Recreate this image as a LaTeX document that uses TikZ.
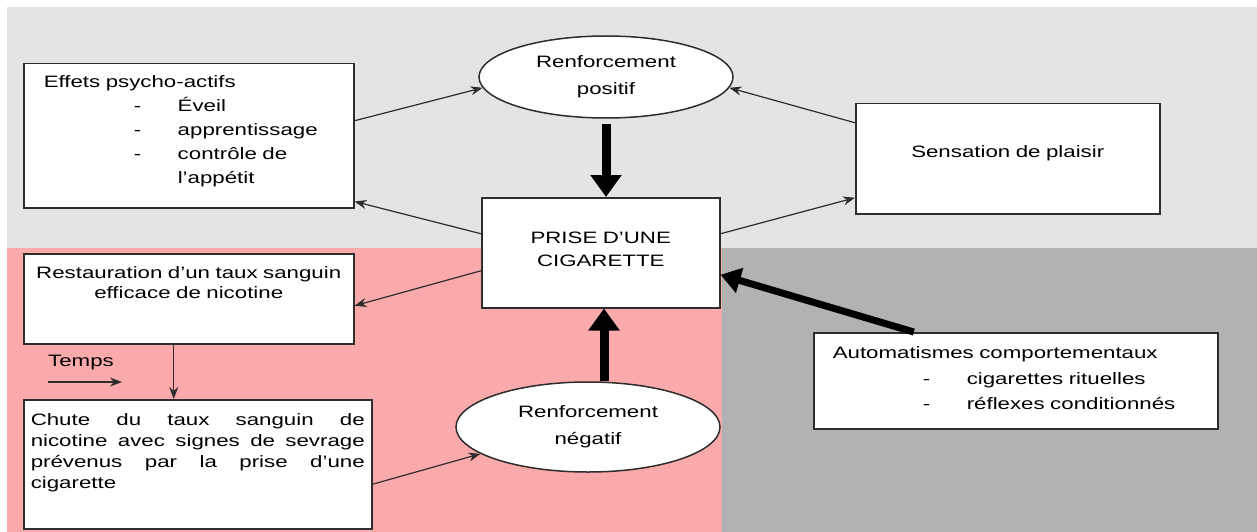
\documentclass[tikz,border=0pt]{standalone}
\usepackage{fontspec}
\setmainfont{Liberation Sans}[FakeStretch=1.35]
\usepackage{tikz}
\usetikzlibrary{shapes.geometric, arrows.meta}

\definecolor{fondclair}{RGB}{228,228,228}
\definecolor{fondrose}{RGB}{250,170,170}
\definecolor{fondgris}{RGB}{178,178,178}
\definecolor{trait}{RGB}{45,45,45}

\tolerance=10000
\hyphenpenalty=10000
\newcommand{\tiret}[1]{\hspace*{90pt}\makebox[44pt][l]{-}#1}

\begin{document}
\begin{tikzpicture}[x=1pt, y=-1pt,
		boite/.style={draw=trait, line width=1.5pt, fill=white, anchor=north west, inner ysep=0pt},
		bulle/.style={ellipse, draw=trait, line width=1.5pt, fill=white, inner sep=0pt, align=center},
		fleche/.style={-{Stealth[length=12pt, width=9pt]}, line width=1.2pt, draw=trait},
		grosse/.style={-{Triangle[length=22pt, width=30pt]}, line width=9pt},
		font=\fontsize{16.5}{22}\selectfont]
			\useasboundingbox (0,0) rectangle (1257,532);
			
			% Draw the three background zones
			\fill[fondclair] (7,7) rectangle (1257,248);
			\fill[fondrose] (7,248) rectangle (722,532);
			\fill[fondgris] (722,248) rectangle (1257,532);
			
			% Boxes
			\node[boite, text width=290pt, inner xsep=20pt, align=left, text height=24pt, text depth=120pt, font=\fontsize{16.5}{24}\selectfont] (effets) at (23,63)
				{Effets psycho-actifs\\ \tiret{Éveil}\\ \tiret{apprentissage}\\ \tiret{contrôle de}\\ \hspace*{134pt}l'appétit};
			\node[boite, text width=222pt, inner xsep=8pt, align=center, text height=46pt, text depth=64pt, font=\fontsize{16.5}{23}\selectfont] (prise) at (481,197)
				{PRISE D'UNE\\ CIGARETTE};
			\node[boite, text width=288pt, inner xsep=8pt, align=center, text height=54pt, text depth=56pt] (plaisir) at (855,103)
				{Sensation de plaisir};
			\node[boite, text width=314pt, inner xsep=8pt, align=center, text height=25pt, text depth=65pt, font=\fontsize{16.5}{20}\selectfont] (restau) at (23,253)
				{Restauration d'un taux sanguin\\ efficace de nicotine};
			\node[boite, text width=334pt, inner xsep=7pt, align=justify, text height=26pt, text depth=103pt, font=\fontsize{16.5}{21}\selectfont] (chute) at (23,399)
				{Chute du taux sanguin de\linebreak nicotine avec signes de sevrage\linebreak prévenus par la prise d'une\linebreak cigarette};
			\node[boite, text width=366pt, inner xsep=19pt, align=left, text height=26pt, text depth=70pt, font=\fontsize{16.5}{25.5}\selectfont] (automat) at (813,332)
				{Automatismes comportementaux\\ \tiret{cigarettes rituelles}\\ \tiret{réflexes conditionnés}};
			
			% Ellipses
			\node[bulle, minimum width=254pt, minimum height=82pt, font=\fontsize{16.5}{27}\selectfont] (rpos) at (606,77) {Renforcement\\ positif};
			\node[bulle, minimum width=264pt, minimum height=90pt, font=\fontsize{16.5}{27}\selectfont] (rneg) at (588,427) {Renforcement\\ négatif};
			
			% Time label
			\node[anchor=west, inner sep=0pt] (temps) at (48,363) {Temps};
			\coordinate (temps0) at (48,382);
			\coordinate (temps1) at (122,382);
			\draw[fleche] (temps0) -- (temps1);
			
			% Thin arrows
			\draw[fleche] ([yshift=15pt]effets.east) -- (rpos.185);
			\draw[fleche] ([yshift=19pt]prise.west) -- ([yshift=7pt]effets.south east);
			\draw[fleche] ([yshift=36pt]plaisir.west) -- (rpos.355);
			\draw[fleche] ([yshift=19pt]prise.east) -- ([yshift=-39pt]plaisir.west);
			\draw[fleche] ([yshift=-18pt]prise.west) -- ([yshift=-7pt]restau.east);
			\draw[fleche] ([xshift=-15pt]restau.south) -- ([xshift=-15pt]restau.south |- chute.north);
			\draw[fleche] ([yshift=-20pt]chute.east) -- (rneg.194);
			
			% Thick arrows
			\draw[grosse] ([yshift=-5pt]rpos.south) -- (rpos.south |- prise.north);
			\draw[grosse] ([xshift=16pt]rneg.north) -- ([xshift=16pt]rneg.north |- prise.south);
			\draw[grosse, line width=7pt, -{Triangle[length=20pt, width=25pt]}] ([xshift=-102pt]automat.north) -- ([yshift=-22pt]prise.east);
			
		\end{tikzpicture}
\end{document}
